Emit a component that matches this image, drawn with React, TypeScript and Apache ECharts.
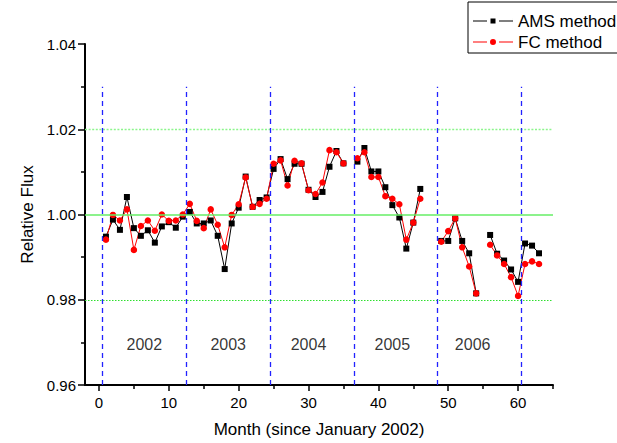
import React, { useEffect, useRef } from "react";
import * as echarts from "echarts";

const months = [
  1, 2, 3, 4, 5, 6, 7, 8, 9, 10, 11, 12,
  13, 14, 15, 16, 17, 18, 19, 20, 21, 22, 23, 24,
  25, 26, 27, 28, 29, 30, 31, 32, 33, 34, 35, 36,
  37, 38, 39, 40, 41, 42, 43, 44, 45, 46, 47, 48,
  49, 50, 51, 52, 53, 54, 55, 56, 57, 58, 59, 60,
  61, 62, 63,
];

const amsValues: (number | null)[] = [
  0.9948, 0.9988, 0.9964, 1.0041, 0.9968, 0.995, 0.9963, 0.9934, 0.9972, 0.9982, 0.9969, 0.9995,
  1.0006, 0.9979, 0.9979, 0.9986, 0.995, 0.9872, 0.9979, 1.0016, 1.0089, 1.0018, 1.0034, 1.004,
  1.0107, 1.013, 1.0083, 1.0119, 1.0119, 1.0058, 1.0041, 1.0053, 1.0112, 1.0149, 1.012, null,
  1.0124, 1.0156, 1.0101, 1.0101, 1.0064, 1.0022, 0.9993, 0.992, 0.9981, 1.006, null, null,
  0.9938, 0.9938, 0.9991, 0.9938, 0.9909, 0.9815, null, 0.9952, 0.9908, 0.9892, 0.9871, 0.9842,
  0.9932, 0.9927, 0.9909,
];

const fcValues: (number | null)[] = [
  0.9941, 0.9999, 0.9986, 1.0012, 0.9917, 0.9973, 0.9986, 0.9962, 1.0, 0.9985, 0.9986, 1.0,
  1.0025, 0.9985, 0.9968, 1.0012, 0.9976, 0.9923, 0.9999, 1.0024, 1.0087, 1.0018, 1.0025, 1.0037,
  1.0119, 1.0127, 1.0068, 1.0126, 1.012, 1.0057, 1.0048, 1.0075, 1.0151, 1.0146, 1.012, null,
  1.0132, 1.0146, 1.0088, 1.0088, 1.0043, 1.0037, 1.0024, 0.9941, 0.9981, 1.0037, null, null,
  0.9936, 0.9961, 0.9991, 0.9923, 0.9878, 0.9815, null, 0.9929, 0.9904, 0.9884, 0.9853, 0.9809,
  0.9884, 0.989, 0.9884,
];

const xMajorTicks = [0, 10, 20, 30, 40, 50, 60];
const xMinorTicks = [5, 15, 25, 35, 45, 55, 65];
const yearBoundaries = [0.5, 12.5, 24.5, 36.5, 48.5, 60.5];
const yearLabels = ["2002", "2003", "2004", "2005", "2006"];
const yearLabelX = [6.5, 18.5, 30, 42, 53.5];
const yearLabelY = 0.9695;
const upperRef = 1.02;
const lowerRef = 0.98;
const solidRef = 1.0;

const AMS_ICON = "path://M0,2.5h14v1h-14z M17.5,0.5h5v5h-5z M26,2.5h14v1h-14z M0,0h0.01v6h-0.01z M39.99,0h0.01v6h-0.01z";
const FC_ICON =
  "path://M0,2.5h14v1h-14z M17,3a3,3 0 1,0 6,0a3,3 0 1,0 -6,0z M26,2.5h14v1h-14z M0,0h0.01v6h-0.01z M39.99,0h0.01v6h-0.01z";

export default function App() {
  const ref = useRef<HTMLDivElement>(null);
  useEffect(() => {
    if (!ref.current) return;
    const chart = echarts.init(ref.current, null, { renderer: "svg" });
    const font = "Liberation Sans, Arial, sans-serif";
    const toData = (vals: (number | null)[]) =>
      months.map((m, i) => [m, vals[i] === null ? null : vals[i]]);

    chart.setOption({
      animation: false,
      backgroundColor: "#fff",
      textStyle: { fontFamily: font },
      grid: { left: 85, right: 64, top: 44, bottom: 54, containLabel: false },
      legend: {
        data: [
          { name: "AMS method", icon: AMS_ICON, itemStyle: { color: "#000", borderWidth: 0 } },
          { name: "FC method", icon: FC_ICON, itemStyle: { color: "#ff0000", borderWidth: 0 } },
        ],
        orient: "vertical",
        left: 468,
        top: 2,
        padding: [10, 5, 2, 5],
        itemGap: 3,
        itemWidth: 40,
        itemHeight: 6,
        symbolKeepAspect: false,
        borderColor: "#000",
        borderWidth: 1,
        textStyle: { fontSize: 17, color: "#000", fontFamily: font, lineHeight: 18 },
      },
      xAxis: [
        {
          type: "value",
          min: -2,
          max: 65,
          name: "Month (since January 2002)",
          nameLocation: "middle",
          nameGap: 36,
          nameTextStyle: { fontSize: 17, color: "#000", fontFamily: font },
          axisLine: { show: true, onZero: false, lineStyle: { color: "#000", width: 2 } },
          axisTick: { show: true, customValues: xMajorTicks, length: 6, lineStyle: { color: "#000", width: 1.5 } },
          axisLabel: { customValues: xMajorTicks, fontSize: 15, color: "#000", margin: 10, fontFamily: font },
          splitLine: { show: false },
        },
        {
          type: "value",
          min: -2,
          max: 65,
          position: "bottom",
          axisLine: { show: false, onZero: false },
          axisTick: { show: true, customValues: xMinorTicks, length: 4, lineStyle: { color: "#000", width: 1.5 } },
          axisLabel: { show: false },
          splitLine: { show: false },
        },
      ],
      yAxis: {
        type: "value",
        min: 0.96,
        max: 1.04,
        interval: 0.02,
        name: "Relative Flux",
        nameLocation: "middle",
        nameGap: 46,
        nameTextStyle: { fontSize: 17, color: "#000", fontFamily: font },
        axisLine: { show: true, onZero: false, lineStyle: { color: "#000", width: 2 } },
        axisTick: { show: true, length: 7, lineStyle: { color: "#000", width: 1.5 } },
        minorTick: { show: true, splitNumber: 2, length: 4, lineStyle: { color: "#000", width: 1.5 } },
        axisLabel: {
          fontSize: 15,
          color: "#000",
          margin: 9,
          fontFamily: font,
          formatter: (v: number) => v.toFixed(2),
        },
        splitLine: { show: false },
      },
      series: [
        {
          name: "refs",
          type: "line",
          data: [],
          silent: true,
          markLine: {
            silent: true,
            symbol: "none",
            label: { show: false },
            data: [
              { yAxis: upperRef, lineStyle: { color: "#8cf58c", type: [2, 1.6], width: 1.3 } },
              { yAxis: lowerRef, lineStyle: { color: "#2ee02e", type: [1.5, 1.5], width: 1 } },
              { yAxis: solidRef, lineStyle: { color: "#66ee66", type: "solid", width: 1.5 } },
              ...yearBoundaries.map((x) => [
                { coord: [x, 0.96], lineStyle: { color: "#2222ff", type: [5, 4], width: 1.3 } },
                { coord: [x, 1.03] },
              ]),
            ],
          },
        },
        {
          name: "years",
          type: "scatter",
          symbolSize: 0,
          silent: true,
          data: yearLabels.map((n, i) => ({ name: n, value: [yearLabelX[i], yearLabelY] })),
          label: {
            show: true,
            position: "inside",
            formatter: "{b}",
            fontSize: 16,
            color: "#000",
            fontFamily: font,
          },
        },
        {
          name: "AMS method",
          type: "line",
          data: toData(amsValues),
          connectNulls: false,
          symbol: "rect",
          symbolSize: 6,
          showAllSymbol: true,
          lineStyle: { color: "#000", width: 1 },
          itemStyle: { color: "#000" },
        },
        {
          name: "FC method",
          type: "line",
          data: toData(fcValues),
          connectNulls: false,
          symbol: "circle",
          symbolSize: 6.5,
          showAllSymbol: true,
          lineStyle: { color: "#ff0000", width: 1 },
          itemStyle: { color: "#ff0000" },
        },
      ],
    });
    return () => chart.dispose();
  }, []);
  return (
    <div
      ref={ref}
      style={{ position: "fixed", left: 0, top: 0, width: 617, height: 443, background: "#fff" }}
    />
  );
}
